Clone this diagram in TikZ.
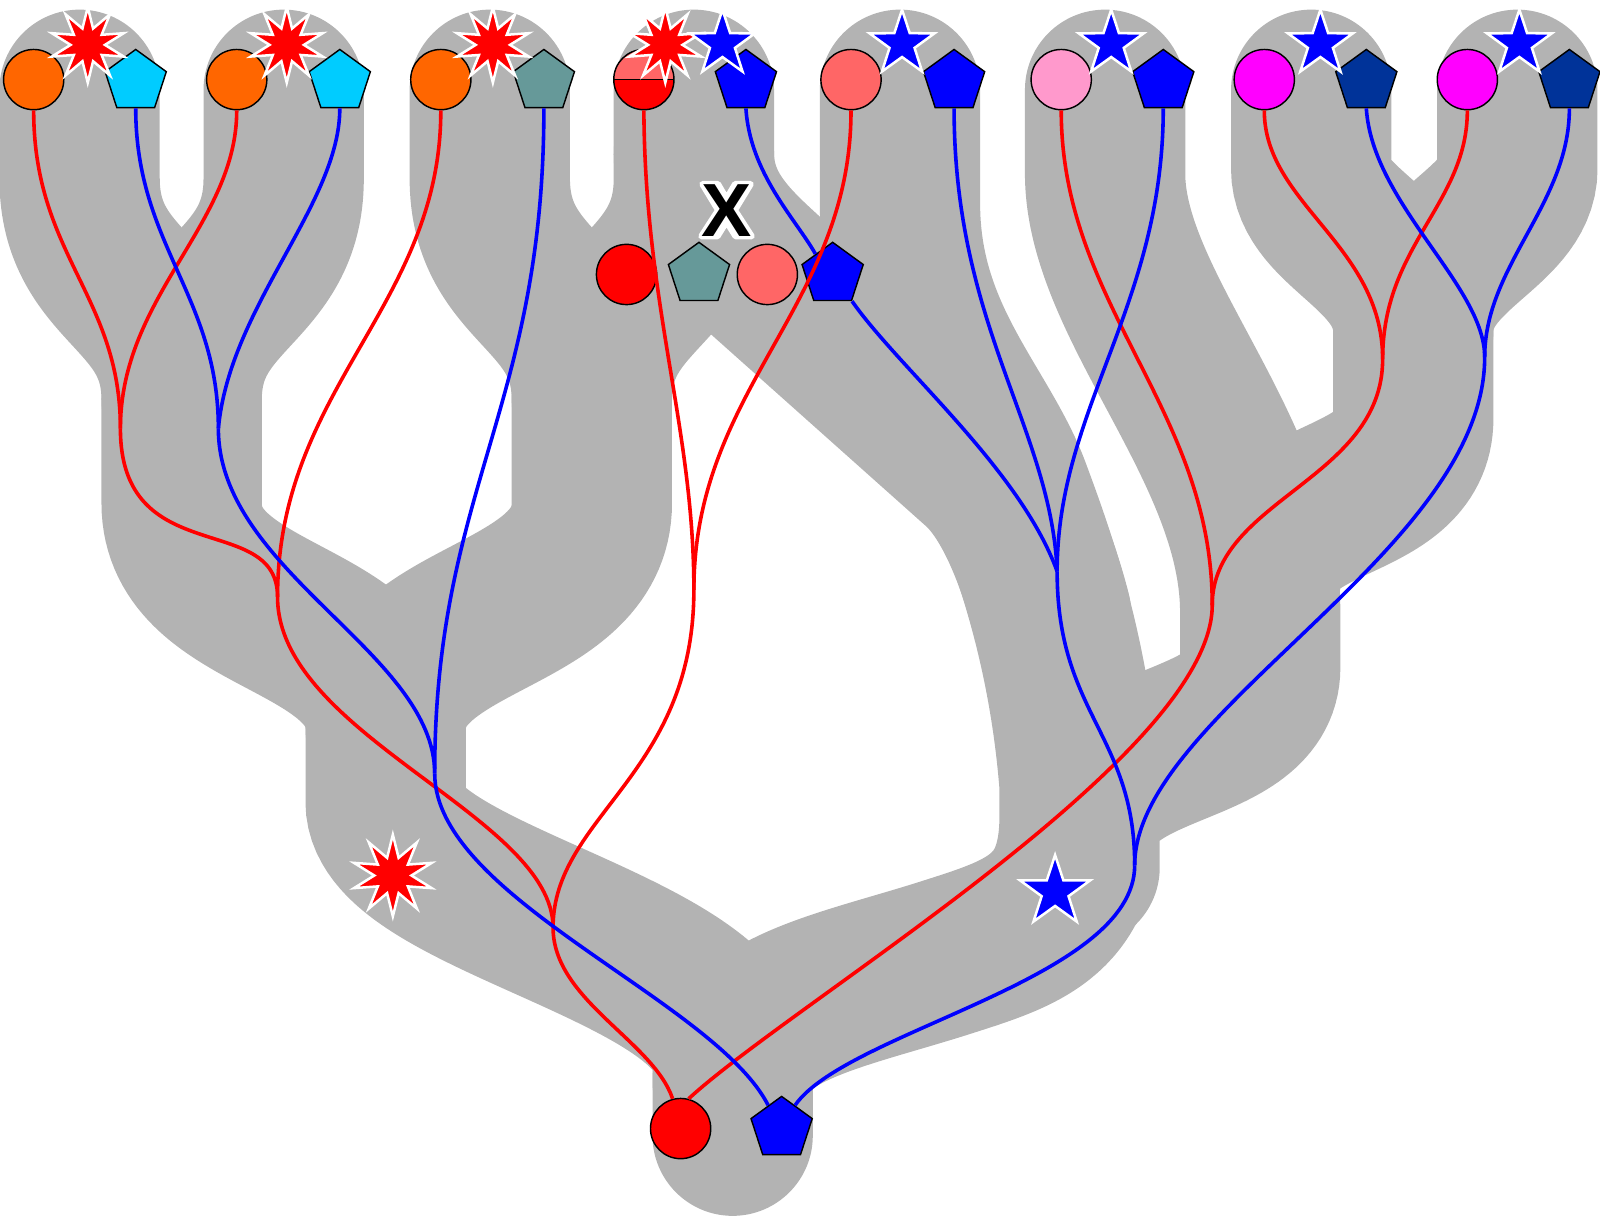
\documentclass[tikz,border=0pt]{standalone}
\usepackage{fontspec}
\setmainfont{Liberation Sans}
\usetikzlibrary{shapes.geometric,backgrounds}

\definecolor{tubegray}{RGB}{179,179,179}
\definecolor{gorange}{RGB}{255,102,0}
\definecolor{gcyan}{RGB}{0,204,255}
\definecolor{gteal}{RGB}{102,153,153}
\definecolor{glight}{RGB}{255,102,102}
\definecolor{gpink}{RGB}{255,153,204}
\definecolor{gmagenta}{RGB}{255,0,255}
\definecolor{gnavy}{RGB}{0,51,153}
\definecolor{gred}{RGB}{255,0,0}
\definecolor{gblue}{RGB}{0,0,255}

\begin{document}
\begin{tikzpicture}[
  x=0.01cm, y=-0.01cm,
  tube/.style     ={draw=tubegray, line width=1.57cm, line cap=round},
  redgene/.style  ={draw=gred, line width=1pt},
  bluegene/.style ={draw=gblue, line width=1pt},
  allele/.style   ={circle, draw=black, line width=0.4pt, minimum size=0.59cm, inner sep=0pt},
  locus/.style    ={regular polygon, regular polygon sides=5, draw=black,
                    line width=0.4pt, minimum size=0.63cm, inner sep=0pt},
  burst/.style    ={star, star points=10, star point ratio=2.2, fill=gred, draw=white,
                    line width=0.7pt, minimum size=0.74cm, inner sep=0pt},
  xfer/.style     ={star, star points=5, star point ratio=2.6, fill=gblue, draw=white,
                    line width=0.7pt, minimum size=0.67cm, inner sep=0pt},
  halo/.style     ={draw=white, fill=white, line width=1.8pt, line join=round},
  loss/.style     ={font=\fontsize{21}{21}\selectfont\bfseries, inner sep=0pt},
]
\useasboundingbox (0,0) rectangle (1568,1192);

% ---------------- lost lineage (middle) ----------------
\node[allele, fill=gred]   (xr) at (614,269) {};
\node[locus,  fill=gteal]  (xt) at (685,269) {};
\node[allele, fill=glight] (xl) at (752,269) {};
\node[locus,  fill=gblue]  (xb) at (816,269) {};
\begin{scope}[shift={(712,206)}]
  \draw[halo] (-23.5,-25.5) -- (-8.5,-25.5) -- (0,-11) -- (8.5,-25.5) -- (23.5,-25.5)
    -- (8,0) -- (24.5,25.5) -- (9,25.5) -- (0,11) -- (-9,25.5) -- (-24.5,25.5) -- (-8,0) -- cycle;
\end{scope}
\node[loss] (xmark) at (712,206) {X};

% ---------------- leaves ----------------
\foreach \i/\cx/\cc in {1/33/gorange, 2/232/gorange, 3/432/gorange, 5/834/glight,
                        6/1040/gpink, 7/1239/gmagenta, 8/1438/gmagenta}
  \node[allele, fill=\cc] (c\i) at (\cx,78) {};
\node[allele, path picture={
    \fill[glight] (path picture bounding box.north west) rectangle (path picture bounding box.east);
    \fill[gred] (path picture bounding box.west) rectangle (path picture bounding box.south east);
    \draw[line width=0.4pt] (path picture bounding box.west) -- (path picture bounding box.east);
  }] (c4) at (631,78) {};
\foreach \i/\px/\pc in {1/133/gcyan, 2/333/gcyan, 3/533/gteal, 4/731/gblue,
                        5/935/gblue, 6/1140/gblue, 7/1339/gnavy, 8/1538/gnavy}
  \node[locus, fill=\pc] (p\i) at (\px,80) {};

% ---------------- root ----------------
\node[allele, fill=gred] (rc) at (667,1106) {};
\node[locus, fill=gblue] (rp) at (766,1106) {};

% ---------------- events ----------------
\foreach \i/\sx in {1/86, 2/281, 3/483, 4/652}
  \node[burst] (dup\i) at (\sx,44) {};
\foreach \i/\sx in {4/708, 5/884, 6/1089, 7/1294, 8/1489}
  \node[xfer] (hgt\i) at (\sx,43) {};
\node[burst, minimum size=0.8cm] (dupA) at (385,858) {};
\node[xfer, minimum size=0.72cm] (hgtA) at (1034,874) {};

% ---------------- species tree ----------------
\begin{scope}[on background layer]
  \draw[tube] (78,88) -- (78,175) .. controls (78,285) and (178,285) .. (178,392) -- (178,493)
    .. controls (178,610) and (378,600) .. (378,715) -- (378,786)
    .. controls (378,880) and (718,930) .. (718,1042) -- (718,1113);
  \draw[tube] (278,88) -- (278,175) .. controls (278,285) and (178,285) .. (178,392);
  \draw[tube] (480,88) -- (480,175) .. controls (480,285) and (580,285) .. (580,392) -- (580,493)
    .. controls (580,610) and (378,600) .. (378,715);
  \draw[tube] (680,88) -- (680,175) .. controls (680,285) and (580,285) .. (580,392);
  \draw[tube] (680,150) .. controls (680,205) and (715,238) .. (749,269) -- (962,459)
    .. controls (1000,495) and (1022,570) .. (1030,601);
  \draw[tube] (882,88) -- (882,200) .. controls (882,330) and (960,400) .. (990,480)
    .. controls (1015,547) and (1048,640) .. (1058,770) -- (1058,800)
    .. controls (1058,900) and (1000,915) .. (922,940)
    .. controls (820,972) and (718,990) .. (718,1060);
  \draw[tube] (1083,88) -- (1083,170) .. controls (1083,300) and (1235,440) .. (1235,600)
    -- (1235,654) .. controls (1235,740) and (1058,720) .. (1058,820) -- (1058,850);
  \draw[tube] (1285,88) -- (1285,165) .. controls (1285,225) and (1385,245) .. (1385,325)
    -- (1385,410) .. controls (1385,500) and (1235,480) .. (1235,571);
  \draw[tube] (1487,88) -- (1487,165) .. controls (1487,225) and (1385,245) .. (1385,325);
\end{scope}

% ---------------- coalescences ----------------
\coordinate (r12)   at (118,420);
\coordinate (r123)  at (272,585);
\coordinate (r45)   at (680,578);
\coordinate (r1to5) at (542,909);
\coordinate (r78)   at (1355,352);
\coordinate (r678)  at (1188,593);
\coordinate (b12)   at (214,420);
\coordinate (b123)  at (426,758);
\coordinate (b456)  at (1036,560);
\coordinate (b78)   at (1455,350);
\coordinate (b4to8) at (1112,848);

% red gene tree
\draw[redgene] (c1.south) .. controls (33,250) and (118,290) .. (r12);
\draw[redgene] (c2.south) .. controls (232,220) and (118,290) .. (r12);
\draw[redgene] (r12) .. controls (118,560) and (272,500) .. (r123);
\draw[redgene] (c3.south) .. controls (432,300) and (272,380) .. (r123);
\draw[redgene] (c4.south) .. controls (632,300) and (680,420) .. (r45);
\draw[redgene] (c5.south) .. controls (834,300) and (680,380) .. (r45);
\draw[redgene] (r123) .. controls (272,720) and (542,800) .. (r1to5);
\draw[redgene] (r45) .. controls (680,760) and (542,800) .. (r1to5);
\draw[redgene] (r1to5) .. controls (542,980) and (640,1020) .. (rc.105);
\draw[redgene] (c6.south) .. controls (1040,300) and (1188,400) .. (r678);
\draw[redgene] (c7.south) .. controls (1239,200) and (1355,240) .. (r78);
\draw[redgene] (c8.south) .. controls (1438,200) and (1355,240) .. (r78);
\draw[redgene] (r78) .. controls (1355,470) and (1188,490) .. (r678);
\draw[redgene] (r678) .. controls (1188,740) and (780,980) .. (rc.75);

% blue gene tree
\draw[bluegene] (p1.south) .. controls (133,240) and (214,290) .. (b12);
\draw[bluegene] (p2.south) .. controls (333,200) and (225,300) .. (b12);
\draw[bluegene] (b12) .. controls (214,560) and (426,640) .. (b123);
\draw[bluegene] (p3.south) .. controls (533,400) and (426,480) .. (b123);
\draw[bluegene] (b123) .. controls (426,880) and (700,980) .. (rp.120);
\draw[bluegene] (p4.south) .. controls (735,170) and (780,215) .. (xb.130);
\draw[bluegene] (xb.corner 4) .. controls (880,360) and (1000,460) .. (b456);
\draw[bluegene] (p5.south) .. controls (935,320) and (1030,420) .. (b456);
\draw[bluegene] (p6.south) .. controls (1140,300) and (1036,400) .. (b456);
\draw[bluegene] (b456) .. controls (1036,700) and (1112,720) .. (b4to8);
\draw[bluegene] (p7.south) .. controls (1345,200) and (1455,280) .. (b78);
\draw[bluegene] (p8.south) .. controls (1538,200) and (1455,260) .. (b78);
\draw[bluegene] (b78) .. controls (1455,540) and (1112,700) .. (b4to8);
\draw[bluegene] (b4to8) .. controls (1112,960) and (830,1010) .. (rp.60);

\end{tikzpicture}
\end{document}
